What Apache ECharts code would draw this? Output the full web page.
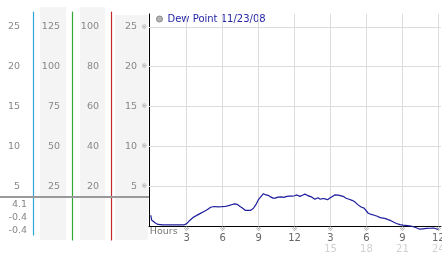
<!DOCTYPE html>
<html><head><meta charset="utf-8">
<script src="https://cdn.jsdelivr.net/npm/echarts@6/dist/echarts.min.js"></script>
<style>html,body{margin:0;padding:0;background:#fff}#c{width:442px;height:253px}</style>
</head><body><div id="c"></div>
<script>
const seriesName = 'Dew Point 11/23/08';
const hours = [0,0.07,0.35,0.6,1.0,1.5,2.0,2.5,2.8,3.0,3.27,3.55,3.8,4.1,4.4,4.7,5.0,5.3,5.6,5.9,6.2,6.5,6.8,7.0,7.2,7.45,7.7,7.9,8.05,8.3,8.55,8.8,9.0,9.15,9.4,9.6,9.8,10.0,10.2,10.4,10.6,10.9,11.1,11.35,11.6,11.8,12.0,12.2,12.45,12.65,12.87,13.05,13.2,13.45,13.7,13.95,14.15,14.35,14.55,14.75,14.95,15.15,15.35,15.5,15.65,15.8,16.05,16.3,16.55,16.8,17.05,17.3,17.55,17.8,17.95,18.15,18.4,18.65,18.9,19.15,19.4,19.6,19.8,20.0,20.25,20.5,20.8,21.05,21.4,21.7,21.95,22.2,22.45,22.7,23.0,23.3,23.6,23.8,24.0];
const dewPoint = [1.35,0.75,0.4,0.2,0.15,0.15,0.15,0.15,0.15,0.3,0.73,1.1,1.3,1.55,1.8,2.05,2.35,2.45,2.4,2.42,2.45,2.55,2.7,2.78,2.72,2.45,2.2,1.95,1.8,1.95,2.2,2.75,3.35,3.6,4.05,3.9,3.85,3.65,3.5,3.5,3.62,3.65,3.6,3.72,3.75,3.74,3.8,3.9,3.72,3.85,4.0,3.85,3.72,3.62,3.35,3.55,3.35,3.45,3.4,3.3,3.5,3.7,3.9,4.0,3.88,3.85,3.72,3.48,3.35,3.22,3.0,2.65,2.38,2.25,2.1,1.6,1.45,1.35,1.22,1.05,0.98,0.92,0.8,0.7,0.5,0.32,0.18,0.1,0.05,0.0,-0.1,-0.25,-0.4,-0.35,-0.3,-0.28,-0.25,-0.35,-0.42];
const tempTicks = [5,10,15,20,25];
const col2Ticks = [25,50,75,100,125];
const col3Ticks = [20,40,60,80,100];
const hourTicks = [3,6,9,12,15,18,21,24];
const hourLabels = ['3','6','9','12','3','6','9','12'];
const dayLabels = ['','','','','15','18','21','24'];
const summaryValues = ['4.1','-0.4','-0.4'];

const FONT = 'DejaVu Sans';
const numLabel = {color:'#888', fontSize:9.5, fontFamily:FONT};
const gridLineStyle = {color:'#dcdcdc', width:1, type:'solid'};

const bgRects = [
  {x:40,y:7,w:26,h:233},
  {x:80,y:7,w:25,h:233},
  {x:115,y:15,w:33,h:225}
];
const graphic = bgRects.map(r => ({type:'rect', z:-10, silent:true,
    shape:{x:r.x,y:r.y,width:r.w,height:r.h}, style:{fill:'#f4f4f4'}}))
  .concat([{type:'line', z:100, silent:true, shape:{x1:0,y1:197,x2:149,y2:197},
    style:{stroke:'#9a9a9a', lineWidth:2}}])
  .concat(summaryValues.map((t,i) => ({type:'text', z:100, silent:true, x:27, y:205+i*13,
    style:{text:t, fill:'#888', font:'9.5px "DejaVu Sans"', align:'right', verticalAlign:'middle'}})));

const chart = echarts.init(document.getElementById('c'), null, {renderer:'canvas'});
chart.setOption({
  animation:false,
  backgroundColor:'#fff',
  graphic: graphic,
  legend:{
    left:156, top:14, padding:0, itemWidth:6, itemHeight:6,
    textStyle:{color:'#2626a6', fontSize:10, fontFamily:FONT},
    data:[{name:seriesName, icon:'circle', itemStyle:{color:'#b4b4b4', borderColor:'#8a8a8a', borderWidth:1}}]
  },
  grid:[
    {left:149, right:1, top:14, bottom:27, outerBoundsMode:'none', containLabel:false},
    {left:33, width:10, top:12, bottom:18, outerBoundsMode:'none', containLabel:false},
    {left:111, width:10, top:12, bottom:13, outerBoundsMode:'none', containLabel:false}
  ],
  xAxis:[
    {type:'value', gridIndex:0, min:-0.15, max:24.22,
     name:'Hours', nameLocation:'start', nameGap:-30,
     nameTextStyle:{color:'#777', fontSize:9.5, fontFamily:FONT, verticalAlign:'top', padding:[1,0,0,0]},
     axisLine:{show:true, onZero:false, lineStyle:{color:'#000', width:1}},
     axisTick:{show:false}, splitLine:{show:false},
     axisLabel:{show:true, customValues:hourTicks, margin:0, hideOverlap:false,
       formatter:(v)=>{const i=hourTicks.indexOf(v); return '{m|※}\n{h|'+hourLabels[i]+'}\n{d|'+(dayLabels[i]||'\u00a0')+'}';},
       rich:{
         m:{fontSize:7, lineHeight:7, color:'#a8a8a8', fontFamily:FONT},
         h:{fontSize:10, lineHeight:10, color:'#666', fontFamily:FONT},
         d:{fontSize:10, lineHeight:12, color:'#d0d0d0', fontFamily:FONT}
       }}
    },
    {type:'value', gridIndex:1, min:0, max:1, show:false},
    {type:'value', gridIndex:2, min:0, max:1, show:false}
  ],
  yAxis:[
    {type:'value', gridIndex:0, min:0, max:26.6, position:'left',
     axisLine:{show:true, onZero:false, lineStyle:{color:'#000', width:1}},
     axisTick:{show:false}, splitLine:{show:false},
     axisLabel:{customValues:tempTicks, margin:2,
       formatter:(v)=>'{v|'+v+'}{m|※}',
       rich:{v:numLabel, m:{fontSize:7, color:'#a8a8a8', fontFamily:FONT, padding:[0,0,0,4]}}}
    },
    {type:'value', gridIndex:1, min:-1.13, max:26.85, position:'left',
     axisLine:{show:true, onZero:false, lineStyle:{color:'#2ea6d6', width:1.2}},
     axisTick:{show:false}, splitLine:{show:false},
     axisLabel:Object.assign({customValues:tempTicks, margin:13}, numLabel)
    },
    {type:'value', gridIndex:2, min:-7.03, max:107.4, position:'left', offset:0,
     axisLine:{show:true, onZero:false, lineStyle:{color:'#c42a2a', width:1.2}},
     axisTick:{show:false}, splitLine:{show:false},
     axisLabel:Object.assign({customValues:col3Ticks, margin:12}, numLabel)
    },
    {type:'value', gridIndex:2, min:-8.78, max:134.25, position:'left', offset:39,
     axisLine:{show:true, onZero:false, lineStyle:{color:'#34a834', width:1.2}},
     axisTick:{show:false}, splitLine:{show:false},
     axisLabel:Object.assign({customValues:col2Ticks, margin:12}, numLabel)
    }
  ],
  series:[
    {type:'line', name:'grid', xAxisIndex:0, yAxisIndex:0, data:[], z:1, silent:true,
     lineStyle:{opacity:0}, showSymbol:false,
     markLine:{silent:true, symbol:'none', animation:false, label:{show:false},
       lineStyle:gridLineStyle,
       data: hourTicks.map(h=>({xAxis:h})).concat(tempTicks.map(v=>({yAxis:v})))}
    },
    {type:'line', name:seriesName, xAxisIndex:0, yAxisIndex:0, z:5,
     data: hours.map((h,i)=>[h, dewPoint[i]]),
     showSymbol:false, symbol:'none', clip:false, smooth:false,
     lineStyle:{color:'#1c1c9c', width:1.2}, itemStyle:{color:'#1c1c9c'}
    }
  ]
});
</script></body></html>
